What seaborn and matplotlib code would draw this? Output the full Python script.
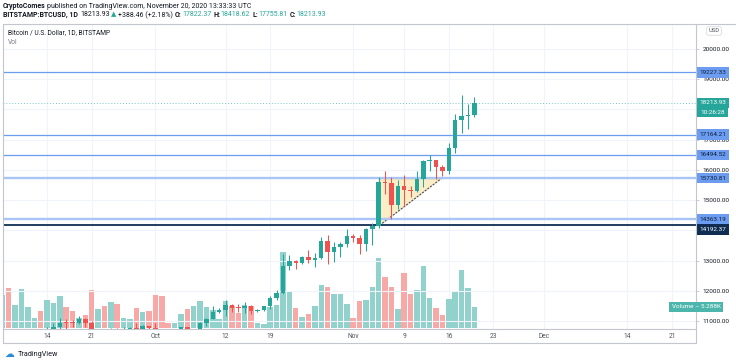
import numpy as np
import pandas as pd
import matplotlib
matplotlib.use("Agg")
import matplotlib.pyplot as plt
import matplotlib.dates as mdates
from matplotlib.lines import Line2D
from matplotlib.patches import Polygon
from matplotlib.ticker import MultipleLocator
import seaborn as sns

# daily BTC/USD candles, Bitstamp, 2020-09-07 .. 2020-11-20
start = "2020-09-07"
opens = [10280, 10370, 10130, 10230, 10340, 10390, 10440, 10330, 10680, 10790,
         10950, 10940, 10930, 11080, 10920, 10420, 10530, 10240, 10740, 10690,
         10730, 10775, 10700, 10840, 10780, 10620, 10570, 10550, 10670, 10790,
         10600, 10670, 10920, 11060, 11300, 11370, 11530, 11430, 11420, 11500,
         11320, 11360, 11500, 11750, 11910, 12810, 12980, 12930, 13110, 13030,
         13070, 13650, 13280, 13460, 13560, 13800, 13760, 13560, 14030, 14150,
         15590, 15580, 14830, 15480, 15330, 15300, 15700, 16290, 16330, 16080,
         15960, 16720, 17660, 17790, 17822.37]
highs = [10390, 10430, 10350, 10540, 10480, 10480, 10560, 10800, 10940, 11100,
         11050, 11040, 11180, 11090, 10990, 10570, 10540, 10780, 10770, 10790,
         10800, 10950, 10860, 10850, 10950, 10670, 10600, 10700, 10800, 10800,
         10680, 10960, 11100, 11490, 11430, 11700, 11560, 11560, 11640, 11540,
         11400, 11490, 11820, 12030, 13230, 13200, 13020, 13160, 13340, 13240,
         13790, 13860, 13620, 13630, 14030, 13890, 13830, 14070, 14240, 15760,
         15960, 15770, 15680, 15840, 15480, 15960, 16340, 16490, 16340, 16150,
         16880, 17860, 18480, 18180, 18418.62]
lows = [9870, 9880, 10000, 10130, 10210, 10280, 10200, 10220, 10630, 10670,
        10750, 10810, 10890, 10810, 10370, 10360, 10150, 10200, 10600, 10660,
        10630, 10680, 10650, 10650, 10450, 10380, 10500, 10530, 10660, 10550,
        10550, 10540, 10830, 11050, 11280, 11180, 11300, 11290, 11280, 11220,
        11300, 11330, 11410, 11690, 11900, 12680, 12720, 12900, 12910, 12780,
        13050, 12900, 12940, 13110, 13450, 13620, 13230, 13300, 13530, 14090,
        15190, 14360, 14720, 14820, 15090, 15280, 15450, 15960, 15710, 15800,
        15870, 16560, 17220, 17340, 17755.81]
closes = [10370, 10130, 10230, 10340, 10390, 10440, 10330, 10680, 10790, 10950,
          10940, 10930, 11080, 10920, 10420, 10530, 10240, 10740, 10690, 10730,
          10775, 10700, 10840, 10780, 10620, 10570, 10550, 10670, 10790, 10600,
          10670, 10920, 11060, 11300, 11370, 11530, 11430, 11420, 11500, 11320,
          11360, 11500, 11750, 11910, 12810, 12980, 12930, 13110, 13030, 13070,
          13650, 13280, 13460, 13560, 13800, 13760, 13560, 14030, 14150, 15590,
          15580, 14830, 15480, 15330, 15300, 15700, 16290, 16330, 16080, 15960,
          16720, 17660, 17790, 17825.47, 18213.93]
# volume, thousands of BTC
volumes = [8.55, 10.37, 5.88, 10.11, 5.29, 2.59, 4.41, 7.26, 6.40, 8.22,
           5.44, 4.41, 2.59, 3.29, 9.85, 4.77, 5.70, 6.66, 6.22, 2.59,
           2.26, 5.03, 3.99, 4.33, 8.48, 8.22, 1.22, 1.14, 3.63, 4.85,
           5.55, 6.92, 5.44, 4.59, 2.33, 6.92, 5.70, 3.81, 5.88, 5.70,
           1.22, 0.96, 5.29, 5.88, 19.54, 9.18, 5.03, 2.85, 3.63, 5.62,
           11.07, 10.47, 8.74, 8.74, 6.22, 2.59, 7.00, 7.08, 10.63, 17.99,
           13.06, 10.63, 4.92, 14.10, 8.81, 9.77, 15.99, 7.70, 5.03, 3.21,
           7.36, 9.51, 14.88, 10.29, 5.288]

levels = [19227.33, 17164.21, 16494.52, 15730.81, 14363.19]
support = 14192.37
tri_dates = ["2020-11-05", "2020-11-15", "2020-11-05"]
tri_prices = [15740, 15740, 14140]

tick_dates = ["2020-09-14", "2020-09-21", "2020-10-01", "2020-10-12", "2020-10-19",
              "2020-11-01", "2020-11-09", "2020-11-16", "2020-11-23", "2020-12-01",
              "2020-12-14", "2020-12-21"]
tick_labels = ["14", "21", "Oct", "12", "19", "Nov", "9", "16", "23", "Dec", "14", "21"]
price_ticks = [20000, 19000, 17000, 16000, 15000, 13000, 12000, 11000]

TEAL = "#26a69a"
RED = "#ef5350"
TEXT = "#131722"
GRID = "#f0f3fa"
FRAME = "#c3c6ce"

sns.set_style("white")
plt.rcParams["font.family"] = ["Roboto", "DejaVu Sans"]

W, H = 736, 364
fig = plt.figure(figsize=(W / 100, H / 100), dpi=100)


def fx(px):
    return px / W


def fy(py):
    return 1 - py / H


L, R, T, B = 3, 696, 24, 329
ax_vol = fig.add_axes([fx(L), fy(B), fx(R) - fx(L), fy(T) - fy(B)])
ax = ax_vol.twinx()

df = pd.DataFrame({"date": pd.date_range(start, periods=len(closes), freq="D"),
                   "open": opens, "high": highs, "low": lows, "close": closes,
                   "volume": volumes})
df["x"] = mdates.date2num(df["date"].to_numpy())
df["dir"] = np.where(df["close"] >= df["open"], "up", "down")

# volume pane
sns.barplot(data=df, x="x", y="volume", hue="dir", native_scale=True,
            palette={"up": "#92d2cc", "down": "#f7a9a7"}, width=0.86,
            saturation=1, errorbar=None, legend=False, dodge=False,
            linewidth=0, ax=ax_vol)
ax_vol.set_ylim(-0.34, 78.7)
ax_vol.set_yticks([])
ax_vol.set_xlabel("")
ax_vol.set_ylabel("")

x0 = mdates.date2num(pd.Timestamp("2020-09-14"))
x1 = mdates.date2num(pd.Timestamp("2020-12-21"))
ax_vol.set_xlim(x0 - 6.9, x1 + 3.76)
ax_vol.set_xticks(mdates.date2num(pd.to_datetime(tick_dates)), tick_labels)
ax_vol.tick_params(axis="x", length=0, pad=3.2, labelsize=4.8, labelcolor="#50535e")
ax_vol.grid(axis="x", color=GRID, lw=0.8)
ax_vol.set_axisbelow(True)

# price pane
ax.set_ylim(10735, 20827)
ax.set_yticks(price_ticks, [f"{p:.2f}" for p in price_ticks])
ax.yaxis.set_minor_locator(MultipleLocator(1000))
ax.tick_params(axis="y", which="major", length=2.5, width=0.6, pad=2,
               labelsize=4.6, labelcolor=TEXT, color=FRAME)
ax.tick_params(axis="y", which="minor", length=0)
ax.grid(axis="y", which="both", color=GRID, lw=0.8)

for a in (ax, ax_vol):
    for s in a.spines.values():
        s.set_visible(False)

up = df["dir"] == "up"
colors = np.where(up, TEAL, RED)
ax.vlines(df["x"], df["low"], df["high"], colors=colors, lw=0.75, zorder=4)
body_lo = np.minimum(df["open"], df["close"])
body_h = np.maximum((df["close"] - df["open"]).abs(), 30)
ax.bar(df["x"], body_h, bottom=body_lo, width=0.7, color=colors, lw=0, zorder=5)

# triangle pattern
tri_x = mdates.date2num(pd.to_datetime(tri_dates))
tri_y = np.array(tri_prices)
ax.add_patch(Polygon(np.column_stack([tri_x, tri_y]), closed=True,
                     fc="#fbeec6", ec="none", zorder=1))
ax.plot(tri_x[[2, 0, 1]], tri_y[[2, 0, 1]], color="#4d4d4d", lw=0.8, zorder=1.5)
ax.plot(tri_x[[1, 2]], tri_y[[1, 2]], color="#4d4d4d", lw=0.8, ls=(0, (2, 1)), zorder=1.5)

# horizontal levels
for lv in levels:
    if lv in (15730.81, 14363.19):
        ax.axhline(lv, color="#a9c5f5", lw=1.7, zorder=2)
    else:
        ax.axhline(lv, color="#6b9cf0", lw=0.9, zorder=2)
ax.axhline(support, color="#0f2d52", lw=1.3, zorder=2)
ax.axhline(closes[-1], color="#7ccbc2", lw=0.7, ls=(0, (1, 2)), zorder=2)

ytrans = ax.get_yaxis_transform()
tag_x = (699 - L) / (R - L)


def price_tag(y, fc, tc, dy=0):
    ax.annotate(f"{y:.2f}", xy=(tag_x, y), xycoords=ytrans, xytext=(0, dy),
                textcoords="offset points", ha="left", va="center",
                fontsize=4.6, color=tc, annotation_clip=False, zorder=10,
                bbox=dict(boxstyle="square,pad=0.45", fc=fc, ec="none"))


for lv in levels:
    price_tag(lv, "#6b9cf0", "#0c1e3c")
price_tag(support, "#0f2d52", "white", dy=-3.4)
price_tag(closes[-1], TEAL, "white")
fig.text(fx(700), fy(112), "10:26:28", ha="left", va="center", fontsize=4.6,
         color="white", bbox=dict(boxstyle="square,pad=0.45", fc=TEAL, ec="none"))
fig.text(fx(696), fy(307), f"Volume \u2013 {volumes[-1]:.3f}K", ha="center", va="center",
         fontsize=4.6, color="white", zorder=10,
         bbox=dict(boxstyle="square,pad=0.4", fc="#4db6ac", ec="none"))
fig.text(fx(714), fy(31), "USD", ha="center", va="center", fontsize=4.2, color="#50535e",
         bbox=dict(boxstyle="round,pad=0.3", fc="white", ec="#d1d4dc", lw=0.5))

# frame lines
for (xa, ya, xb, yb) in [(3, 24, 736, 24), (3, 24, 3, 343), (3, 329, 696, 329),
                         (696, 24, 696, 343), (3, 343, 696, 343)]:
    fig.add_artist(Line2D([fx(xa), fx(xb)], [fy(ya), fy(yb)], color=FRAME, lw=0.8,
                          transform=fig.transFigure))

# legend inside chart
fig.text(fx(8), fy(33), "Bitcoin / U.S. Dollar, 1D, BITSTAMP", fontsize=4.8,
         color=TEXT, va="center")
fig.text(fx(8), fy(42), "Vol", fontsize=4.8, color="#787b86", va="center")


def text_run(parts, x, y, size):
    s, col, wt, _ = parts[0]
    prev = fig.text(fx(x), fy(y), s, color=col, fontweight=wt, fontsize=size,
                    va="center", ha="left")
    for s, col, wt, gap in parts[1:]:
        prev = ax_vol.annotate(s, xy=(1, 0.5), xycoords=prev, xytext=(gap, 0),
                               textcoords="offset points", va="center", ha="left",
                               color=col, fontweight=wt, fontsize=size)


text_run([("CryptoComes", TEXT, "bold", 0),
          ("published on TradingView.com, November 20, 2020 13:33:33 UTC", TEXT, "normal", 1.2)],
         3, 6, 5)
chg = closes[-1] - closes[-2]
pct = chg / closes[-2] * 100
text_run([("BITSTAMP:BTCUSD, 1D", TEXT, "bold", 0),
          (f"{closes[-1]:.2f}", TEXT, "normal", 1.5),
          ("\u25b2", TEAL, "normal", 1.2),
          (f"+{chg:.2f} (+{pct:.2f}%)", TEXT, "normal", 1.0),
          ("O:", TEXT, "bold", 1.5),
          (f"{opens[-1]:.2f}", TEAL, "normal", 0.3),
          ("H:", TEXT, "bold", 1.5),
          (f"{highs[-1]:.2f}", TEAL, "normal", 0.3),
          ("L:", TEXT, "bold", 1.5),
          (f"{lows[-1]:.2f}", TEAL, "normal", 0.3),
          ("C:", TEXT, "bold", 1.5),
          (f"{closes[-1]:.2f}", TEAL, "normal", 0.3)],
         3, 15, 5)

# footer logo
fig.text(fx(4), fy(354), "\u2601", fontsize=7, color="#2a8bd8", va="center",
         family=["DejaVu Sans"])
fig.text(fx(18), fy(354), "TradingView", fontsize=5.2, color=TEXT, va="center")

fig.savefig("out.png", dpi=100)
